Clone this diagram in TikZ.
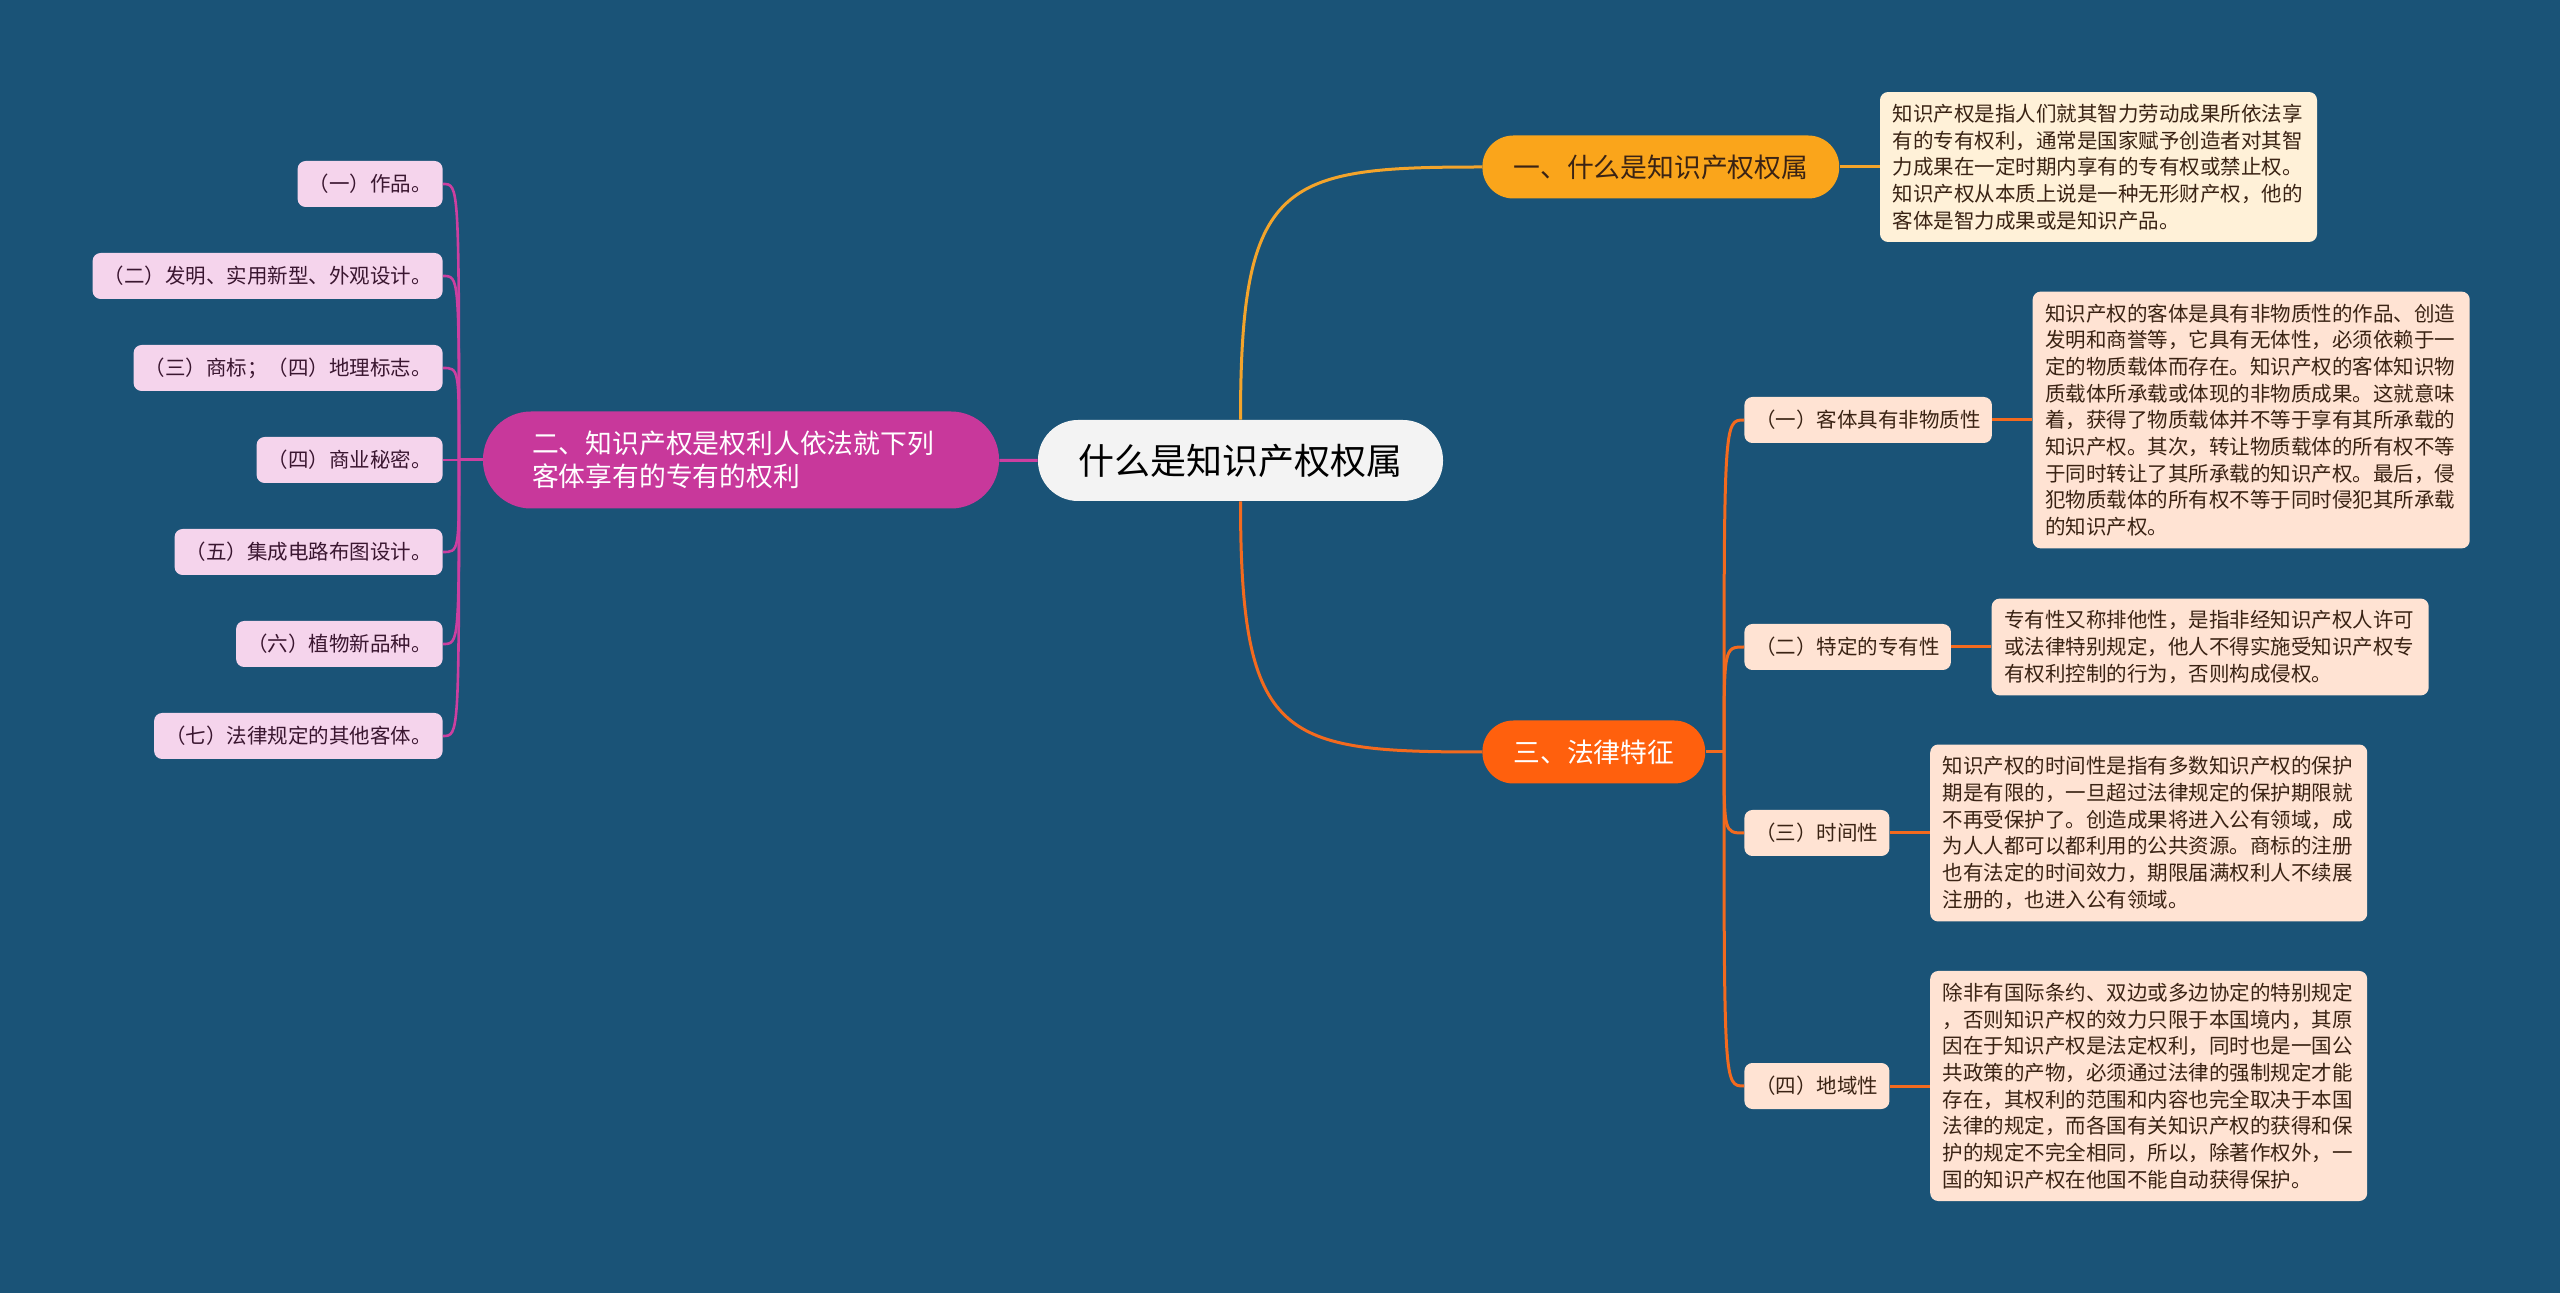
\documentclass[tikz,border=0pt]{standalone}
\usepackage{fontspec}
\setmainfont{Noto Sans CJK SC}
\usetikzlibrary{positioning}

\definecolor{bgblue}{HTML}{1A5377}
\definecolor{rootfill}{HTML}{F3F3F3}
\definecolor{goldfill}{HTML}{FAA51B}
\definecolor{orangefill}{HTML}{FF600D}
\definecolor{magentafill}{HTML}{C8389B}
\definecolor{creamfill}{HTML}{FFF1D8}
\definecolor{peachfill}{HTML}{FFE3D3}
\definecolor{pinkfill}{HTML}{F5D4EC}
\definecolor{goldline}{HTML}{F3A42B}
\definecolor{orangeline}{HTML}{F36A1E}
\definecolor{magentaline}{HTML}{CC3FA0}
\definecolor{desctext}{HTML}{3A2314}
\definecolor{leaftext}{HTML}{3A1630}

\begin{document}
\begin{tikzpicture}[x=0.5pt,y=-0.5pt,
  box/.style={rounded corners=4pt, inner xsep=5.5pt, inner ysep=0pt, minimum height=23pt,
    font=\fontsize{10.25pt}{13.35pt}\selectfont},
  branch/.style={rounded corners=15.5pt, inner xsep=15.5pt, minimum height=31.5pt,
    font=\fontsize{13.4pt}{16.5pt}\selectfont},
  leaf/.style={box, fill=pinkfill, text=leaftext, anchor=east},
  sub/.style={box, fill=peachfill, text=desctext, anchor=west},
  desc/.style={box, fill=peachfill, text=desctext, text width=206pt, align=left,
    inner xsep=6.25pt, inner ysep=6pt},
  conn/.style={line width=1.5pt},
  node distance=20pt]
  \useasboundingbox (0,0) rectangle (2560,1293);
  \fill[bgblue] (0,0) rectangle (2560,1293);

  % centre
  \node[fill=rootfill, rounded corners=20pt, minimum width=202.5pt, minimum height=40.5pt,
    font=\fontsize{18pt}{20pt}\selectfont] (root) at (1240.5,460.5) {什么是知识产权权属};

  % right side
  \node[branch, fill=goldfill, text=desctext, anchor=west] (b1) at (1482,167) {一、什么是知识产权权属};
  \node[desc, fill=creamfill, right=of b1] (d1) {知识产权是指人们就其智力劳动成果所依法享\\
    有的专有权利，通常是国家赋予创造者对其智\\
    力成果在一定时期内享有的专有权或禁止权。\\
    知识产权从本质上说是一种无形财产权，他的\\
    客体是智力成果或是知识产品。};
  \draw[conn, goldline] (root.north) .. controls +(0,-240) and +(-200,0) .. (b1.west);
  \draw[conn, goldline] (b1) -- (d1);

  \node[branch, fill=orangefill, text=white, anchor=west] (b3) at (1482,752) {三、法律特征};
  \draw[conn, orangeline] (root.south) .. controls +(0,240) and +(-200,0) .. (b3.west);
  \coordinate (j3) at (1724,752);
  \draw[conn, orangeline] (b3.east) -- (j3);
  \foreach \i/\y/\t in {1/420/{（一）客体具有非物质性},2/647/{（二）特定的专有性},
                        3/833/{（三）时间性},4/1086/{（四）地域性}} {
    \node[sub] (s\i) at (1744,\y) {\t};
    \draw[conn, orangeline] (j3) .. controls (j3 |- s\i.west) .. (s\i.west);
  }
  \node[desc, right=of s1] (d2) {知识产权的客体是具有非物质性的作品、创造\\
    发明和商誉等，它具有无体性，必须依赖于一\\
    定的物质载体而存在。知识产权的客体知识物\\
    质载体所承载或体现的非物质成果。这就意味\\
    着，获得了物质载体并不等于享有其所承载的\\
    知识产权。其次，转让物质载体的所有权不等\\
    于同时转让了其所承载的知识产权。最后，侵\\
    犯物质载体的所有权不等于同时侵犯其所承载\\
    的知识产权。};
  \node[desc, right=of s2] (d3) {专有性又称排他性，是指非经知识产权人许可\\
    或法律特别规定，他人不得实施受知识产权专\\
    有权利控制的行为，否则构成侵权。};
  \node[desc, right=of s3] (d4) {知识产权的时间性是指有多数知识产权的保护\\
    期是有限的，一旦超过法律规定的保护期限就\\
    不再受保护了。创造成果将进入公有领域，成\\
    为人人都可以都利用的公共资源。商标的注册\\
    也有法定的时间效力，期限届满权利人不续展\\
    注册的，也进入公有领域。};
  \node[desc, right=of s4] (d5) {除非有国际条约、双边或多边协定的特别规定\\
    ，否则知识产权的效力只限于本国境内，其原\\
    因在于知识产权是法定权利，同时也是一国公\\
    共政策的产物，必须通过法律的强制规定才能\\
    存在，其权利的范围和内容也完全取决于本国\\
    法律的规定，而各国有关知识产权的获得和保\\
    护的规定不完全相同，所以，除著作权外，一\\
    国的知识产权在他国不能自动获得保护。};
  \foreach \i in {1,...,4} {
    \pgfmathtruncatemacro\k{\i+1}
    \draw[conn, orangeline] (s\i) -- (d\k);
  }

  % left side
  \node[branch, fill=magentafill, text=white, rounded corners=24pt, minimum height=48.5pt,
    text width=209pt, align=left, inner xsep=24.5pt] (b2) at (741,460)
    {二、知识产权是权利人依法就下列\\客体享有的专有的权利};
  \draw[conn, magentaline] (root) -- (b2);
  \coordinate (j2) at (459,460);
  \draw[conn, magentaline] (b2.west) -- (j2);
  \foreach \i/\t in {1/{（一）作品。},2/{（二）发明、实用新型、外观设计。},
                     3/{（三）商标；（四）地理标志。},4/{（四）商业秘密。},
                     5/{（五）集成电路布图设计。},6/{（六）植物新品种。},
                     7/{（七）法律规定的其他客体。}} {
    \node[leaf] (l\i) at (443,{92+92*\i}) {\t};
    \draw[line width=1.3pt, magentaline] (j2) .. controls (j2 |- l\i.east) .. (l\i.east);
  }
\end{tikzpicture}
\end{document}
